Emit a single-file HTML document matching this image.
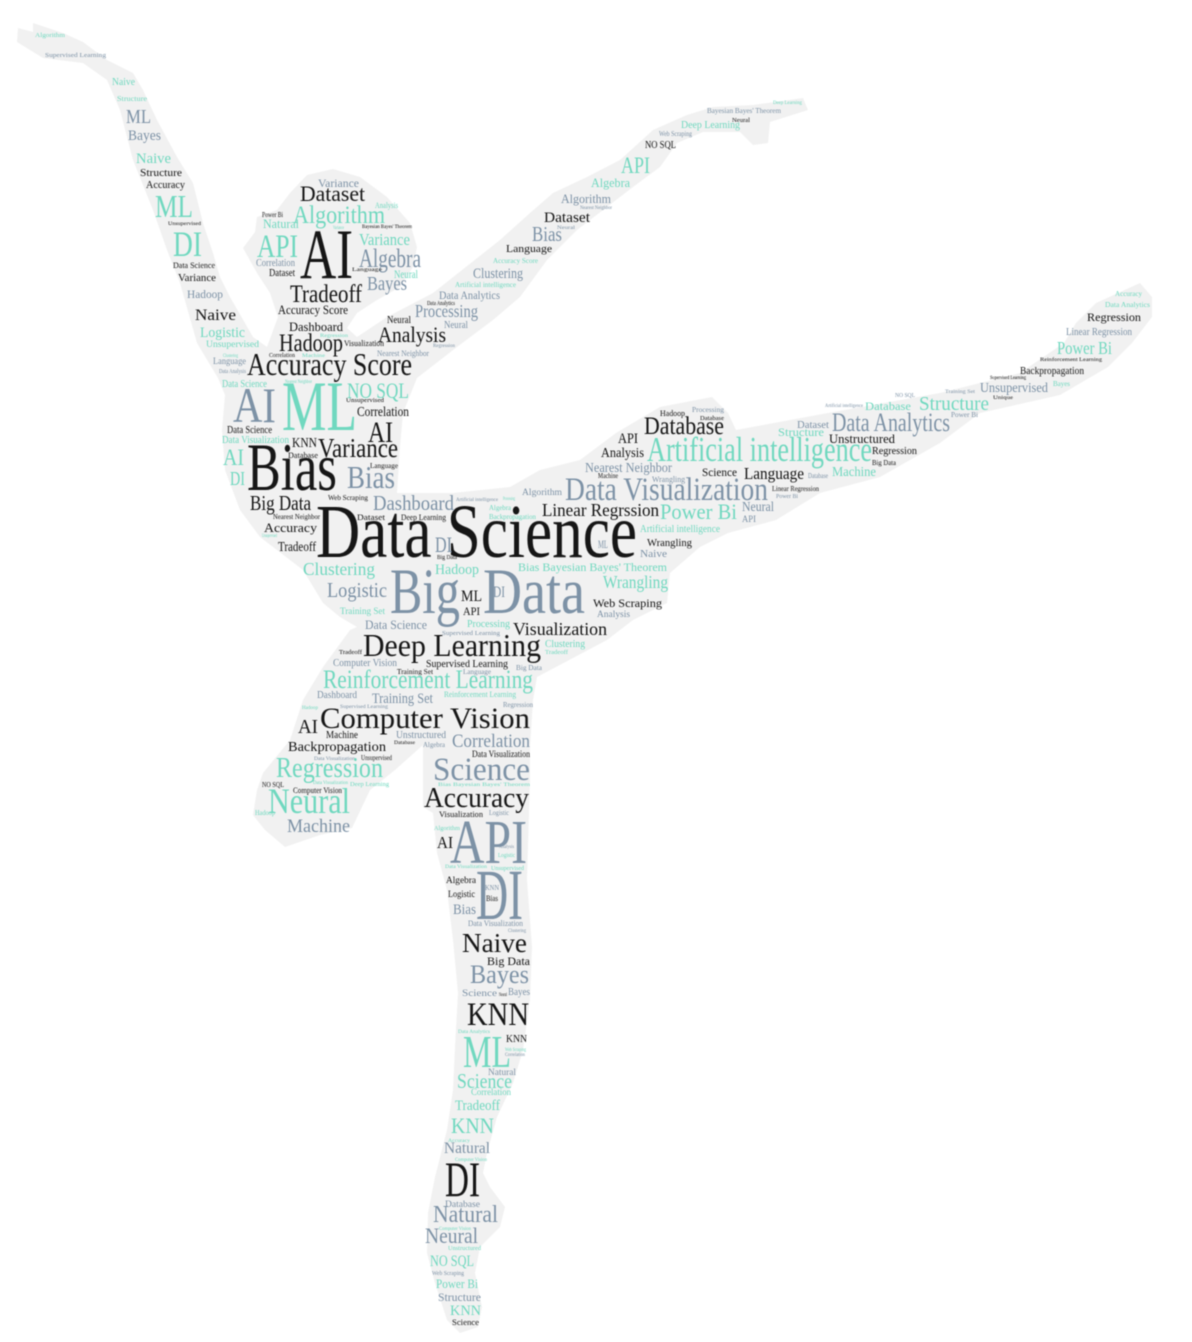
<!DOCTYPE html>
<html lang="en">
<head>
<meta charset="utf-8">
<title>Data Science Word Cloud Dancer</title>
<style>
html,body{margin:0;padding:0;background:#fff;width:1192px;height:1342px;overflow:hidden}
svg{display:block}
text{font-family:"Liberation Serif",serif}
.k{fill:#161616}.s{fill:#7d92a6}.t{fill:#70d8bf}
</style>
</head>
<body>
<svg xmlns="http://www.w3.org/2000/svg" width="1192" height="1342" viewBox="0 0 1192 1342">
<defs><filter id="soft" x="-5%" y="-5%" width="110%" height="110%"><feGaussianBlur stdDeviation="0.45"/></filter></defs>
<rect width="1192" height="1342" fill="#fff"/>
<polygon fill="#f1f1f1" filter="url(#soft)" points="17,42 18,28 33,32 33,23 63,33 83,42 107,60 133,73 143,90 157,120 177,157 193,183 203,223 213,253 220,277 230,297 253,337 267,347 278,317 270,293 257,273 243,248 255,232 257,217 277,210 290,193 307,175 333,169 360,177 387,197 410,223 417,247 413,267 400,287 377,300 357,313 347,328 357,337 387,317 433,293 500,240 530,213 553,193 587,177 620,160 653,130 687,115 713,107 753,105 803,98 808,110 770,122 768,143 753,145 740,132 703,132 677,143 660,167 633,187 607,207 577,230 560,247 547,260 520,297 493,320 457,347 417,378 403,413 400,447 397,493 453,493 510,487 540,470 580,460 616,433 660,407 712,397 728,413 736,430 828,413 940,393 1020,373 1064,343 1076,323 1096,303 1140,283 1152,297 1152,317 1132,343 1108,367 1060,395 980,413 940,443 880,477 820,493 776,520 728,533 700,547 670,573 667,603 633,620 607,640 537,677 533,700 530,747 530,780 527,880 532,947 530,1000 523,1050 513,1083 497,1117 487,1153 483,1173 490,1187 505,1207 500,1227 480,1247 475,1273 482,1307 478,1327 460,1333 447,1320 435,1283 427,1253 428,1213 435,1177 447,1130 453,1090 455,1047 458,993 453,940 447,890 437,853 433,813 423,807 423,745 395,770 370,790 352,828 320,835 285,847 265,830 253,815 257,790 263,773 290,740 303,700 323,667 350,630 357,627 340,617 323,603 303,570 260,537 240,510 225,470 222,430 225,395 218,378 197,343 180,283 167,250 153,210 133,160 120,110 107,80 83,63 43,58"/>
<g filter="url(#soft)">
<text class="s" x="318" y="187" font-size="12" textLength="41" lengthAdjust="spacingAndGlyphs">Variance</text>
<text class="k" x="300" y="201" font-size="22" textLength="65" lengthAdjust="spacingAndGlyphs">Dataset</text>
<text class="t" x="293" y="223" font-size="25" textLength="92" lengthAdjust="spacingAndGlyphs">Algorithm</text>
<text class="t" x="375" y="208" font-size="8" textLength="23" lengthAdjust="spacingAndGlyphs">Analysis</text>
<text class="k" x="262" y="217" font-size="7" textLength="21" lengthAdjust="spacingAndGlyphs">Power Bi</text>
<text class="t" x="263" y="228" font-size="13" textLength="36" lengthAdjust="spacingAndGlyphs">Natural</text>
<text class="t" x="333" y="229" font-size="5" textLength="11" lengthAdjust="spacingAndGlyphs">Variance</text>
<text class="k" x="362" y="228" font-size="5" textLength="50" lengthAdjust="spacingAndGlyphs">Bayesian Bayes' Theorem</text>
<text class="t" x="257" y="257" font-size="33" textLength="41" lengthAdjust="spacingAndGlyphs">API</text>
<text class="k" x="300" y="278" font-size="71" textLength="53" lengthAdjust="spacingAndGlyphs">AI</text>
<text class="t" x="359" y="245" font-size="17" textLength="51" lengthAdjust="spacingAndGlyphs">Variance</text>
<text class="s" x="359" y="267" font-size="26" textLength="62" lengthAdjust="spacingAndGlyphs">Algebra</text>
<text class="s" x="256" y="266" font-size="11" textLength="39" lengthAdjust="spacingAndGlyphs">Correlation</text>
<text class="k" x="269" y="276" font-size="10" textLength="26" lengthAdjust="spacingAndGlyphs">Dataset</text>
<text class="k" x="352" y="271" font-size="5" textLength="30" lengthAdjust="spacingAndGlyphs">Language</text>
<text class="t" x="394" y="278" font-size="12" textLength="24" lengthAdjust="spacingAndGlyphs">Neural</text>
<text class="s" x="367" y="290" font-size="20" textLength="40" lengthAdjust="spacingAndGlyphs">Bayes</text>
<text class="k" x="290" y="302" font-size="25" textLength="72" lengthAdjust="spacingAndGlyphs">Tradeoff</text>
<text class="k" x="278" y="314" font-size="13" textLength="70" lengthAdjust="spacingAndGlyphs">Accuracy Score</text>
<text class="k" x="289" y="331" font-size="13" textLength="54" lengthAdjust="spacingAndGlyphs">Dashboard</text>
<text class="k" x="279" y="351" font-size="25" textLength="64" lengthAdjust="spacingAndGlyphs">Hadoop</text>
<text class="t" x="320" y="337" font-size="5" textLength="28" lengthAdjust="spacingAndGlyphs">Regression</text>
<text class="k" x="344" y="346" font-size="8" textLength="40" lengthAdjust="spacingAndGlyphs">Visualization</text>
<text class="k" x="387" y="323" font-size="10" textLength="24" lengthAdjust="spacingAndGlyphs">Neural</text>
<text class="k" x="378" y="342" font-size="22" textLength="68" lengthAdjust="spacingAndGlyphs">Analysis</text>
<text class="k" x="427" y="305" font-size="6" textLength="28" lengthAdjust="spacingAndGlyphs">Data Analytics</text>
<text class="s" x="415" y="317" font-size="18" textLength="63" lengthAdjust="spacingAndGlyphs">Processing</text>
<text class="s" x="444" y="328" font-size="10" textLength="24" lengthAdjust="spacingAndGlyphs">Neural</text>
<text class="s" x="433" y="347" font-size="5" textLength="22" lengthAdjust="spacingAndGlyphs">Regression</text>
<text class="s" x="377" y="356" font-size="8" textLength="52" lengthAdjust="spacingAndGlyphs">Nearest Neighbor</text>
<text class="k" x="247" y="375" font-size="32" textLength="165" lengthAdjust="spacingAndGlyphs">Accuracy Score</text>
<text class="k" x="269" y="357" font-size="6" textLength="26" lengthAdjust="spacingAndGlyphs">Correlation</text>
<text class="t" x="302" y="357" font-size="5" textLength="23" lengthAdjust="spacingAndGlyphs">Machine</text>
<text class="s" x="213" y="364" font-size="9" textLength="33" lengthAdjust="spacingAndGlyphs">Language</text>
<text class="t" x="223" y="357" font-size="5" textLength="15" lengthAdjust="spacingAndGlyphs">Clustering</text>
<text class="s" x="219" y="373" font-size="6" textLength="27" lengthAdjust="spacingAndGlyphs">Data Analysis</text>
<text class="t" x="222" y="387" font-size="10" textLength="45" lengthAdjust="spacingAndGlyphs">Data Science</text>
<text class="t" x="285" y="383" font-size="5" textLength="27" lengthAdjust="spacingAndGlyphs">Nearest Neighbor</text>
<text class="t" x="347" y="398" font-size="22" textLength="62" lengthAdjust="spacingAndGlyphs">NO SQL</text>
<text class="k" x="346" y="402" font-size="6" textLength="38" lengthAdjust="spacingAndGlyphs">Unsupervised</text>
<text class="s" x="233" y="422" font-size="50" textLength="43" lengthAdjust="spacingAndGlyphs">AI</text>
<text class="t" x="282" y="430" font-size="71" textLength="75" lengthAdjust="spacingAndGlyphs">ML</text>
<text class="k" x="357" y="416" font-size="14" textLength="52" lengthAdjust="spacingAndGlyphs">Correlation</text>
<text class="k" x="368" y="442" font-size="30" textLength="25" lengthAdjust="spacingAndGlyphs">AI</text>
<text class="k" x="227" y="433" font-size="11" textLength="45" lengthAdjust="spacingAndGlyphs">Data Science</text>
<text class="t" x="222" y="443" font-size="10" textLength="67" lengthAdjust="spacingAndGlyphs">Data Visualization</text>
<text class="k" x="292" y="447" font-size="14" textLength="25" lengthAdjust="spacingAndGlyphs">KNN</text>
<text class="k" x="318" y="457" font-size="27" textLength="80" lengthAdjust="spacingAndGlyphs">Variance</text>
<text class="k" x="288" y="458" font-size="8" textLength="30" lengthAdjust="spacingAndGlyphs">Database</text>
<text class="t" x="223" y="465" font-size="23" textLength="21" lengthAdjust="spacingAndGlyphs">AI</text>
<text class="t" x="230" y="485" font-size="20" textLength="15" lengthAdjust="spacingAndGlyphs">DI</text>
<text class="k" x="247" y="490" font-size="68" textLength="90" lengthAdjust="spacingAndGlyphs">Bias</text>
<text class="s" x="347" y="488" font-size="32" textLength="48" lengthAdjust="spacingAndGlyphs">Bias</text>
<text class="k" x="370" y="468" font-size="7" textLength="28" lengthAdjust="spacingAndGlyphs">Language</text>
<text class="k" x="250" y="510" font-size="21" textLength="61" lengthAdjust="spacingAndGlyphs">Big Data</text>
<text class="k" x="328" y="500" font-size="7" textLength="40" lengthAdjust="spacingAndGlyphs">Web Scraping</text>
<text class="k" x="273" y="519" font-size="7" textLength="47" lengthAdjust="spacingAndGlyphs">Nearest Neighbor</text>
<text class="k" x="264" y="532" font-size="13" textLength="53" lengthAdjust="spacingAndGlyphs">Accuracy</text>
<text class="k" x="278" y="551" font-size="14" textLength="38" lengthAdjust="spacingAndGlyphs">Tradeoff</text>
<text class="t" x="262" y="537" font-size="5" textLength="15" lengthAdjust="spacingAndGlyphs">Unsupervised</text>
<text class="s" x="373" y="510" font-size="21" textLength="81" lengthAdjust="spacingAndGlyphs">Dashboard</text>
<text class="k" x="357" y="520" font-size="8" textLength="28" lengthAdjust="spacingAndGlyphs">Dataset</text>
<text class="k" x="401" y="520" font-size="8" textLength="45" lengthAdjust="spacingAndGlyphs">Deep Learning</text>
<text class="s" x="456" y="501" font-size="5" textLength="42" lengthAdjust="spacingAndGlyphs">Artificial intelligence</text>
<text class="t" x="503" y="500" font-size="5" textLength="12" lengthAdjust="spacingAndGlyphs">Processing</text>
<text class="s" x="522" y="495" font-size="9" textLength="40" lengthAdjust="spacingAndGlyphs">Algorithm</text>
<text class="t" x="489" y="510" font-size="7" textLength="22" lengthAdjust="spacingAndGlyphs">Algebra</text>
<text class="t" x="489" y="519" font-size="7" textLength="47" lengthAdjust="spacingAndGlyphs">Backpropagation</text>
<text class="k" x="316" y="557" font-size="76" textLength="321" lengthAdjust="spacingAndGlyphs">Data Science</text>
<text class="s" x="435" y="552" font-size="22" textLength="17" lengthAdjust="spacingAndGlyphs">DI</text>
<text class="k" x="437" y="559" font-size="6" textLength="20" lengthAdjust="spacingAndGlyphs">Big Data</text>
<text class="s" x="598" y="548" font-size="12" textLength="10" lengthAdjust="spacingAndGlyphs">ML</text>
<text class="k" x="542" y="516" font-size="18" textLength="117" lengthAdjust="spacingAndGlyphs">Linear Regrssion</text>
<text class="t" x="303" y="575" font-size="18" textLength="72" lengthAdjust="spacingAndGlyphs">Clustering</text>
<text class="s" x="327" y="597" font-size="21" textLength="60" lengthAdjust="spacingAndGlyphs">Logistic</text>
<text class="s" x="390" y="613" font-size="65" textLength="70" lengthAdjust="spacingAndGlyphs">Big</text>
<text class="s" x="483" y="613" font-size="65" textLength="102" lengthAdjust="spacingAndGlyphs">Data</text>
<text class="k" x="461" y="601" font-size="16" textLength="21" lengthAdjust="spacingAndGlyphs">ML</text>
<text class="k" x="463" y="615" font-size="12" textLength="17" lengthAdjust="spacingAndGlyphs">API</text>
<text class="s" x="493" y="597" font-size="16" textLength="12" lengthAdjust="spacingAndGlyphs">DI</text>
<text class="t" x="435" y="574" font-size="15" textLength="44" lengthAdjust="spacingAndGlyphs">Hadoop</text>
<text class="t" x="518" y="571" font-size="12" textLength="149" lengthAdjust="spacingAndGlyphs">Bias Bayesian Bayes' Theorem</text>
<text class="t" x="603" y="588" font-size="18" textLength="65" lengthAdjust="spacingAndGlyphs">Wrangling</text>
<text class="k" x="593" y="607" font-size="12" textLength="69" lengthAdjust="spacingAndGlyphs">Web Scraping</text>
<text class="s" x="597" y="617" font-size="9" textLength="33" lengthAdjust="spacingAndGlyphs">Analysis</text>
<text class="t" x="340" y="614" font-size="9" textLength="45" lengthAdjust="spacingAndGlyphs">Training Set</text>
<text class="s" x="365" y="629" font-size="13" textLength="62" lengthAdjust="spacingAndGlyphs">Data Science</text>
<text class="t" x="467" y="627" font-size="10" textLength="43" lengthAdjust="spacingAndGlyphs">Processing</text>
<text class="k" x="513" y="635" font-size="18" textLength="94" lengthAdjust="spacingAndGlyphs">Visualization</text>
<text class="k" x="363" y="656" font-size="32" textLength="178" lengthAdjust="spacingAndGlyphs">Deep Learning</text>
<text class="s" x="442" y="635" font-size="6" textLength="58" lengthAdjust="spacingAndGlyphs">Supervised Learning</text>
<text class="t" x="545" y="647" font-size="10" textLength="40" lengthAdjust="spacingAndGlyphs">Clustering</text>
<text class="t" x="545" y="654" font-size="6" textLength="23" lengthAdjust="spacingAndGlyphs">Tradeoff</text>
<text class="k" x="339" y="654" font-size="6" textLength="23" lengthAdjust="spacingAndGlyphs">Tradeoff</text>
<text class="s" x="333" y="666" font-size="11" textLength="64" lengthAdjust="spacingAndGlyphs">Computer Vision</text>
<text class="k" x="426" y="667" font-size="10" textLength="82" lengthAdjust="spacingAndGlyphs">Supervised Learning</text>
<text class="k" x="397" y="674" font-size="7" textLength="36" lengthAdjust="spacingAndGlyphs">Training Set</text>
<text class="s" x="463" y="674" font-size="7" textLength="28" lengthAdjust="spacingAndGlyphs">Language</text>
<text class="s" x="516" y="670" font-size="7" textLength="26" lengthAdjust="spacingAndGlyphs">Big Data</text>
<text class="t" x="323" y="688" font-size="26" textLength="210" lengthAdjust="spacingAndGlyphs">Reinforcement Learning</text>
<text class="s" x="317" y="698" font-size="10" textLength="40" lengthAdjust="spacingAndGlyphs">Dashboard</text>
<text class="s" x="372" y="703" font-size="15" textLength="61" lengthAdjust="spacingAndGlyphs">Training Set</text>
<text class="t" x="444" y="697" font-size="8" textLength="72" lengthAdjust="spacingAndGlyphs">Reinforcement Learning</text>
<text class="t" x="302" y="709" font-size="5" textLength="16" lengthAdjust="spacingAndGlyphs">Hadoop</text>
<text class="s" x="340" y="708" font-size="5" textLength="48" lengthAdjust="spacingAndGlyphs">Supervised Learning</text>
<text class="s" x="503" y="707" font-size="7" textLength="30" lengthAdjust="spacingAndGlyphs">Regression</text>
<text class="k" x="298" y="733" font-size="20" textLength="20" lengthAdjust="spacingAndGlyphs">AI</text>
<text class="k" x="320" y="728" font-size="30" textLength="210" lengthAdjust="spacingAndGlyphs">Computer Vision</text>
<text class="k" x="326" y="738" font-size="10" textLength="32" lengthAdjust="spacingAndGlyphs">Machine</text>
<text class="k" x="288" y="751" font-size="14" textLength="98" lengthAdjust="spacingAndGlyphs">Backpropagation</text>
<text class="s" x="396" y="738" font-size="10" textLength="50" lengthAdjust="spacingAndGlyphs">Unstructured</text>
<text class="s" x="423" y="747" font-size="7" textLength="22" lengthAdjust="spacingAndGlyphs">Algebra</text>
<text class="k" x="394" y="744" font-size="5" textLength="21" lengthAdjust="spacingAndGlyphs">Database</text>
<text class="s" x="452" y="747" font-size="19" textLength="78" lengthAdjust="spacingAndGlyphs">Correlation</text>
<text class="k" x="472" y="757" font-size="9" textLength="58" lengthAdjust="spacingAndGlyphs">Data Visualization</text>
<text class="k" x="361" y="760" font-size="7" textLength="31" lengthAdjust="spacingAndGlyphs">Unsupervised</text>
<text class="s" x="314" y="760" font-size="5" textLength="41" lengthAdjust="spacingAndGlyphs">Data Visualization</text>
<text class="s" x="433" y="780" font-size="33" textLength="97" lengthAdjust="spacingAndGlyphs">Science</text>
<text class="t" x="276" y="777" font-size="28" textLength="107" lengthAdjust="spacingAndGlyphs">Regression</text>
<text class="t" x="313" y="784" font-size="5" textLength="35" lengthAdjust="spacingAndGlyphs">Data Visualization</text>
<text class="t" x="350" y="786" font-size="6" textLength="39" lengthAdjust="spacingAndGlyphs">Deep Learning</text>
<text class="k" x="262" y="787" font-size="7" textLength="22" lengthAdjust="spacingAndGlyphs">NO SQL</text>
<text class="k" x="293" y="793" font-size="8" textLength="49" lengthAdjust="spacingAndGlyphs">Computer Vision</text>
<text class="t" x="438" y="786" font-size="5" textLength="92" lengthAdjust="spacingAndGlyphs">Bias Bayesian Bayes' Theorem</text>
<text class="k" x="424" y="807" font-size="29" textLength="105" lengthAdjust="spacingAndGlyphs">Accuracy</text>
<text class="t" x="268" y="813" font-size="36" textLength="82" lengthAdjust="spacingAndGlyphs">Neural</text>
<text class="t" x="255" y="815" font-size="7" textLength="20" lengthAdjust="spacingAndGlyphs">Hadoop</text>
<text class="s" x="287" y="832" font-size="19" textLength="63" lengthAdjust="spacingAndGlyphs">Machine</text>
<text class="k" x="439" y="817" font-size="8" textLength="44" lengthAdjust="spacingAndGlyphs">Visualization</text>
<text class="s" x="489" y="815" font-size="7" textLength="20" lengthAdjust="spacingAndGlyphs">Logistic</text>
<text class="t" x="434" y="830" font-size="6" textLength="26" lengthAdjust="spacingAndGlyphs">Algorithm</text>
<text class="k" x="437" y="848" font-size="17" textLength="16" lengthAdjust="spacingAndGlyphs">AI</text>
<text class="s" x="450" y="863" font-size="62" textLength="77" lengthAdjust="spacingAndGlyphs">API</text>
<text class="s" x="499" y="848" font-size="5" textLength="15" lengthAdjust="spacingAndGlyphs">Analysis</text>
<text class="t" x="498" y="857" font-size="6" textLength="17" lengthAdjust="spacingAndGlyphs">Logistic</text>
<text class="t" x="445" y="868" font-size="5" textLength="42" lengthAdjust="spacingAndGlyphs">Data Visualization</text>
<text class="t" x="491" y="870" font-size="6" textLength="33" lengthAdjust="spacingAndGlyphs">Unsupervised</text>
<text class="k" x="446" y="883" font-size="9" textLength="30" lengthAdjust="spacingAndGlyphs">Algebra</text>
<text class="s" x="476" y="919" font-size="72" textLength="47" lengthAdjust="spacingAndGlyphs">DI</text>
<text class="s" x="485" y="890" font-size="7" textLength="14" lengthAdjust="spacingAndGlyphs">KNN</text>
<text class="k" x="448" y="897" font-size="9" textLength="27" lengthAdjust="spacingAndGlyphs">Logistic</text>
<text class="k" x="486" y="901" font-size="8" textLength="12" lengthAdjust="spacingAndGlyphs">Bias</text>
<text class="s" x="453" y="914" font-size="15" textLength="23" lengthAdjust="spacingAndGlyphs">Bias</text>
<text class="s" x="468" y="926" font-size="8" textLength="55" lengthAdjust="spacingAndGlyphs">Data Visualization</text>
<text class="s" x="508" y="932" font-size="5" textLength="18" lengthAdjust="spacingAndGlyphs">Clustering</text>
<text class="k" x="462" y="952" font-size="27" textLength="65" lengthAdjust="spacingAndGlyphs">Naive</text>
<text class="k" x="487" y="965" font-size="12" textLength="43" lengthAdjust="spacingAndGlyphs">Big Data</text>
<text class="s" x="470" y="983" font-size="26" textLength="59" lengthAdjust="spacingAndGlyphs">Bayes</text>
<text class="s" x="462" y="996" font-size="9" textLength="35" lengthAdjust="spacingAndGlyphs">Science</text>
<text class="k" x="499" y="996" font-size="5" textLength="8" lengthAdjust="spacingAndGlyphs">Neural</text>
<text class="s" x="508" y="995" font-size="10" textLength="22" lengthAdjust="spacingAndGlyphs">Bayes</text>
<text class="k" x="467" y="1025" font-size="33" textLength="62" lengthAdjust="spacingAndGlyphs">KNN</text>
<text class="t" x="458" y="1033" font-size="5" textLength="32" lengthAdjust="spacingAndGlyphs">Data Analytics</text>
<text class="k" x="506" y="1042" font-size="10" textLength="21" lengthAdjust="spacingAndGlyphs">KNN</text>
<text class="t" x="463" y="1067" font-size="46" textLength="48" lengthAdjust="spacingAndGlyphs">ML</text>
<text class="t" x="505" y="1051" font-size="5" textLength="21" lengthAdjust="spacingAndGlyphs">Web Scraping</text>
<text class="s" x="505" y="1056" font-size="5" textLength="20" lengthAdjust="spacingAndGlyphs">Correlation</text>
<text class="s" x="488" y="1075" font-size="9" textLength="28" lengthAdjust="spacingAndGlyphs">Natural</text>
<text class="t" x="457" y="1088" font-size="21" textLength="55" lengthAdjust="spacingAndGlyphs">Science</text>
<text class="t" x="471" y="1095" font-size="9" textLength="40" lengthAdjust="spacingAndGlyphs">Correlation</text>
<text class="t" x="455" y="1110" font-size="15" textLength="45" lengthAdjust="spacingAndGlyphs">Tradeoff</text>
<text class="t" x="451" y="1133" font-size="22" textLength="43" lengthAdjust="spacingAndGlyphs">KNN</text>
<text class="t" x="448" y="1142" font-size="5" textLength="22" lengthAdjust="spacingAndGlyphs">Accuracy</text>
<text class="s" x="444" y="1153" font-size="16" textLength="46" lengthAdjust="spacingAndGlyphs">Natural</text>
<text class="t" x="455" y="1161" font-size="5" textLength="32" lengthAdjust="spacingAndGlyphs">Computer Vision</text>
<text class="k" x="445" y="1196" font-size="50" textLength="35" lengthAdjust="spacingAndGlyphs">DI</text>
<text class="s" x="445" y="1207" font-size="9" textLength="35" lengthAdjust="spacingAndGlyphs">Database</text>
<text class="s" x="433" y="1222" font-size="24" textLength="65" lengthAdjust="spacingAndGlyphs">Natural</text>
<text class="t" x="439" y="1230" font-size="5" textLength="32" lengthAdjust="spacingAndGlyphs">Computer Vision</text>
<text class="s" x="425" y="1243" font-size="22" textLength="53" lengthAdjust="spacingAndGlyphs">Neural</text>
<text class="t" x="448" y="1250" font-size="6" textLength="33" lengthAdjust="spacingAndGlyphs">Unstructured</text>
<text class="t" x="430" y="1266" font-size="16" textLength="44" lengthAdjust="spacingAndGlyphs">NO SQL</text>
<text class="s" x="432" y="1275" font-size="6" textLength="32" lengthAdjust="spacingAndGlyphs">Web Scraping</text>
<text class="t" x="436" y="1288" font-size="13" textLength="42" lengthAdjust="spacingAndGlyphs">Power Bi</text>
<text class="s" x="438" y="1301" font-size="12" textLength="43" lengthAdjust="spacingAndGlyphs">Structure</text>
<text class="t" x="450" y="1315" font-size="15" textLength="31" lengthAdjust="spacingAndGlyphs">KNN</text>
<text class="k" x="452" y="1325" font-size="8" textLength="27" lengthAdjust="spacingAndGlyphs">Science</text>
<text class="t" x="35" y="37" font-size="6" textLength="30" lengthAdjust="spacingAndGlyphs">Algorithm</text>
<text class="s" x="45" y="57" font-size="6" textLength="61" lengthAdjust="spacingAndGlyphs">Supervised Learning</text>
<text class="t" x="112" y="85" font-size="10" textLength="23" lengthAdjust="spacingAndGlyphs">Naive</text>
<text class="t" x="117" y="101" font-size="7" textLength="30" lengthAdjust="spacingAndGlyphs">Structure</text>
<text class="s" x="126" y="123" font-size="20" textLength="25" lengthAdjust="spacingAndGlyphs">ML</text>
<text class="s" x="128" y="140" font-size="15" textLength="33" lengthAdjust="spacingAndGlyphs">Bayes</text>
<text class="t" x="136" y="163" font-size="15" textLength="35" lengthAdjust="spacingAndGlyphs">Naive</text>
<text class="k" x="140" y="176" font-size="10" textLength="42" lengthAdjust="spacingAndGlyphs">Structure</text>
<text class="k" x="146" y="188" font-size="10" textLength="39" lengthAdjust="spacingAndGlyphs">Accuracy</text>
<text class="t" x="155" y="217" font-size="32" textLength="38" lengthAdjust="spacingAndGlyphs">ML</text>
<text class="k" x="168" y="225" font-size="5" textLength="33" lengthAdjust="spacingAndGlyphs">Unsupervised</text>
<text class="t" x="173" y="256" font-size="36" textLength="29" lengthAdjust="spacingAndGlyphs">DI</text>
<text class="k" x="173" y="268" font-size="8" textLength="42" lengthAdjust="spacingAndGlyphs">Data Science</text>
<text class="k" x="178" y="281" font-size="11" textLength="38" lengthAdjust="spacingAndGlyphs">Variance</text>
<text class="s" x="187" y="298" font-size="12" textLength="36" lengthAdjust="spacingAndGlyphs">Hadoop</text>
<text class="k" x="195" y="320" font-size="16" textLength="41" lengthAdjust="spacingAndGlyphs">Naive</text>
<text class="t" x="200" y="337" font-size="15" textLength="45" lengthAdjust="spacingAndGlyphs">Logistic</text>
<text class="t" x="206" y="347" font-size="9" textLength="53" lengthAdjust="spacingAndGlyphs">Unsupervised</text>
<text class="t" x="773" y="104" font-size="5" textLength="29" lengthAdjust="spacingAndGlyphs">Deep Learning</text>
<text class="s" x="707" y="113" font-size="7" textLength="74" lengthAdjust="spacingAndGlyphs">Bayesian Bayes' Theorem</text>
<text class="k" x="732" y="122" font-size="6" textLength="18" lengthAdjust="spacingAndGlyphs">Neural</text>
<text class="t" x="681" y="128" font-size="10" textLength="59" lengthAdjust="spacingAndGlyphs">Deep Learning</text>
<text class="s" x="659" y="136" font-size="7" textLength="33" lengthAdjust="spacingAndGlyphs">Web Scraping</text>
<text class="k" x="645" y="148" font-size="10" textLength="31" lengthAdjust="spacingAndGlyphs">NO SQL</text>
<text class="t" x="621" y="173" font-size="23" textLength="29" lengthAdjust="spacingAndGlyphs">API</text>
<text class="t" x="591" y="187" font-size="13" textLength="39" lengthAdjust="spacingAndGlyphs">Algebra</text>
<text class="s" x="561" y="203" font-size="13" textLength="50" lengthAdjust="spacingAndGlyphs">Algorithm</text>
<text class="s" x="580" y="209" font-size="5" textLength="32" lengthAdjust="spacingAndGlyphs">Nearest Neighbor</text>
<text class="k" x="544" y="222" font-size="15" textLength="46" lengthAdjust="spacingAndGlyphs">Dataset</text>
<text class="s" x="557" y="229" font-size="5" textLength="18" lengthAdjust="spacingAndGlyphs">Neural</text>
<text class="s" x="532" y="241" font-size="21" textLength="30" lengthAdjust="spacingAndGlyphs">Bias</text>
<text class="k" x="506" y="252" font-size="11" textLength="46" lengthAdjust="spacingAndGlyphs">Language</text>
<text class="t" x="493" y="263" font-size="7" textLength="45" lengthAdjust="spacingAndGlyphs">Accuracy Score</text>
<text class="s" x="473" y="278" font-size="15" textLength="50" lengthAdjust="spacingAndGlyphs">Clustering</text>
<text class="t" x="455" y="287" font-size="7" textLength="61" lengthAdjust="spacingAndGlyphs">Artificial intelligence</text>
<text class="s" x="439" y="299" font-size="12" textLength="61" lengthAdjust="spacingAndGlyphs">Data Analytics</text>
<text class="k" x="644" y="434" font-size="25" textLength="80" lengthAdjust="spacingAndGlyphs">Database</text>
<text class="k" x="660" y="416" font-size="8" textLength="25" lengthAdjust="spacingAndGlyphs">Hadoop</text>
<text class="s" x="692" y="412" font-size="7" textLength="32" lengthAdjust="spacingAndGlyphs">Processing</text>
<text class="k" x="700" y="420" font-size="6" textLength="24" lengthAdjust="spacingAndGlyphs">Database</text>
<text class="k" x="618" y="443" font-size="15" textLength="20" lengthAdjust="spacingAndGlyphs">API</text>
<text class="k" x="601" y="457" font-size="14" textLength="43" lengthAdjust="spacingAndGlyphs">Analysis</text>
<text class="t" x="647" y="461" font-size="35" textLength="225" lengthAdjust="spacingAndGlyphs">Artificial intelligence</text>
<text class="s" x="585" y="472" font-size="14" textLength="87" lengthAdjust="spacingAndGlyphs">Nearest Neighbor</text>
<text class="k" x="702" y="476" font-size="12" textLength="35" lengthAdjust="spacingAndGlyphs">Science</text>
<text class="k" x="744" y="479" font-size="17" textLength="60" lengthAdjust="spacingAndGlyphs">Language</text>
<text class="t" x="832" y="476" font-size="14" textLength="44" lengthAdjust="spacingAndGlyphs">Machine</text>
<text class="s" x="808" y="478" font-size="7" textLength="20" lengthAdjust="spacingAndGlyphs">Database</text>
<text class="s" x="565" y="500" font-size="33" textLength="203" lengthAdjust="spacingAndGlyphs">Data Visualization</text>
<text class="s" x="652" y="482" font-size="8" textLength="33" lengthAdjust="spacingAndGlyphs">Wrangling</text>
<text class="k" x="598" y="478" font-size="7" textLength="20" lengthAdjust="spacingAndGlyphs">Machine</text>
<text class="k" x="772" y="491" font-size="7" textLength="47" lengthAdjust="spacingAndGlyphs">Linear Regression</text>
<text class="s" x="776" y="498" font-size="6" textLength="22" lengthAdjust="spacingAndGlyphs">Power Bi</text>
<text class="t" x="660" y="519" font-size="22" textLength="77" lengthAdjust="spacingAndGlyphs">Power Bi</text>
<text class="s" x="742" y="511" font-size="14" textLength="32" lengthAdjust="spacingAndGlyphs">Neural</text>
<text class="s" x="742" y="522" font-size="9" textLength="14" lengthAdjust="spacingAndGlyphs">API</text>
<text class="t" x="640" y="532" font-size="11" textLength="80" lengthAdjust="spacingAndGlyphs">Artificial intelligence</text>
<text class="k" x="647" y="546" font-size="10" textLength="45" lengthAdjust="spacingAndGlyphs">Wrangling</text>
<text class="s" x="640" y="557" font-size="11" textLength="27" lengthAdjust="spacingAndGlyphs">Naive</text>
<text class="k" x="829" y="443" font-size="13" textLength="66" lengthAdjust="spacingAndGlyphs">Unstructured</text>
<text class="k" x="872" y="454" font-size="10" textLength="45" lengthAdjust="spacingAndGlyphs">Regression</text>
<text class="k" x="872" y="465" font-size="7" textLength="24" lengthAdjust="spacingAndGlyphs">Big Data</text>
<text class="t" x="778" y="436" font-size="12" textLength="46" lengthAdjust="spacingAndGlyphs">Structure</text>
<text class="s" x="797" y="428" font-size="10" textLength="32" lengthAdjust="spacingAndGlyphs">Dataset</text>
<text class="s" x="832" y="431" font-size="26" textLength="118" lengthAdjust="spacingAndGlyphs">Data Analytics</text>
<text class="t" x="865" y="410" font-size="12" textLength="46" lengthAdjust="spacingAndGlyphs">Database</text>
<text class="t" x="919" y="410" font-size="20" textLength="70" lengthAdjust="spacingAndGlyphs">Structure</text>
<text class="s" x="951" y="417" font-size="7" textLength="27" lengthAdjust="spacingAndGlyphs">Power Bi</text>
<text class="s" x="980" y="392" font-size="14" textLength="68" lengthAdjust="spacingAndGlyphs">Unsupervised</text>
<text class="k" x="1020" y="374" font-size="10" textLength="64" lengthAdjust="spacingAndGlyphs">Backpropagation</text>
<text class="t" x="1057" y="354" font-size="18" textLength="55" lengthAdjust="spacingAndGlyphs">Power Bi</text>
<text class="s" x="1066" y="335" font-size="11" textLength="66" lengthAdjust="spacingAndGlyphs">Linear Regression</text>
<text class="k" x="1087" y="321" font-size="12" textLength="54" lengthAdjust="spacingAndGlyphs">Regression</text>
<text class="t" x="1105" y="307" font-size="7" textLength="45" lengthAdjust="spacingAndGlyphs">Data Analytics</text>
<text class="t" x="1115" y="296" font-size="7" textLength="27" lengthAdjust="spacingAndGlyphs">Accuracy</text>
<text class="k" x="1040" y="361" font-size="5" textLength="62" lengthAdjust="spacingAndGlyphs">Reinforcement Learning</text>
<text class="t" x="1053" y="386" font-size="7" textLength="17" lengthAdjust="spacingAndGlyphs">Bayes</text>
<text class="k" x="993" y="399" font-size="5" textLength="20" lengthAdjust="spacingAndGlyphs">Unique</text>
<text class="k" x="990" y="379" font-size="5" textLength="36" lengthAdjust="spacingAndGlyphs">Supervised Learning</text>
<text class="s" x="895" y="397" font-size="6" textLength="20" lengthAdjust="spacingAndGlyphs">NO SQL</text>
<text class="s" x="945" y="393" font-size="5" textLength="30" lengthAdjust="spacingAndGlyphs">Training Set</text>
<text class="s" x="825" y="407" font-size="5" textLength="38" lengthAdjust="spacingAndGlyphs">Artificial intelligence</text>
</g>
</svg>
</body>
</html>
